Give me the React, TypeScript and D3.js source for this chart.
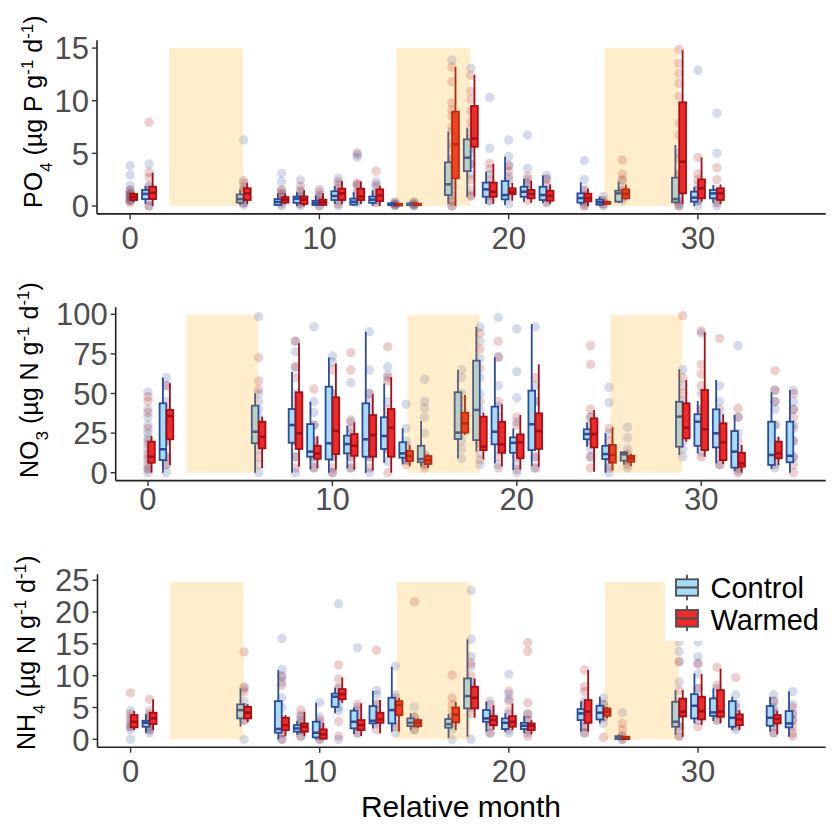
import React from "react";
import * as d3 from "d3";

type Box = number[] | null;

// ---------- shared ----------
const xTicks = [0, 10, 20, 30];
const xDomain = [-1.75, 36.75];
const shadeSpans = [[2.08, 5.97], [14.07, 17.97], [25.07, 28.97]];

// ---------- PO4 ----------
const po4Ticks = [0, 5, 10, 15];
const po4ShadeTop = 15;
const po4Months = [0, 1, 6, 8, 9, 10, 11, 12, 13, 14, 15, 17, 18, 19, 20, 21, 22, 24, 25, 26, 29, 30, 31];
const po4CtrlBox: Box[] = [
  null, [0.2, 0.66, 1.15, 1.52, 1.9], [0.1, 0.32, 0.66, 1.1, 1.5], [0, 0.1, 0.38, 0.66, 1.2],
  [0, 0.3, 0.7, 0.9, 1.3], [0, 0.1, 0.3, 0.5, 1.0], [0.2, 0.57, 0.95, 1.4, 1.9], [0, 0.13, 0.4, 0.7, 1.3],
  [0, 0.3, 0.6, 0.9, 1.5], [0, 0.08, 0.15, 0.25, 0.4], [0, 0.08, 0.15, 0.25, 0.4], [0.2, 1.04, 2.06, 4.15, 7.06],
  [0.88, 3.32, 4.59, 6.33, 7.38], [0.2, 0.88, 1.58, 2.22, 3.26], [0.1, 0.63, 1.04, 2.37, 4.68],
  [0.4, 0.88, 1.36, 1.83, 2.6], [0.3, 0.57, 1.04, 1.83, 2.9], [0.1, 0.32, 0.75, 1.2, 2.25],
  [0, 0.13, 0.35, 0.6, 0.9], [0.3, 0.41, 1.2, 1.45, 2.3], [0.2, 0.35, 0.66, 2.69, 5.79],
  [0, 0.41, 0.8, 1.36, 1.83], [0.3, 0.73, 1.2, 1.52, 2.0],
];
const po4WarmBox: Box[] = [
  [0.4, 0.57, 0.85, 1.14, 1.3], [0, 0.66, 1.25, 1.83, 3.17], [0.2, 0.57, 1.2, 1.68, 2.2], [0.2, 0.32, 0.6, 0.85, 1.2],
  [0, 0.2, 0.6, 0.9, 1.5], [0, 0.1, 0.35, 0.6, 1.2], [0.2, 0.57, 1.2, 1.65, 2.37], [0.2, 0.57, 0.9, 1.65, 2.34],
  [0, 0.47, 1.0, 1.58, 1.9], [0, 0.05, 0.12, 0.2, 0.3], [0, 0.08, 0.15, 0.22, 0.3], [0, 2.63, 5.86, 8.96, 13.2],
  [0.9, 5.63, 6.4, 9.5, 12.44], [0.2, 0.88, 1.36, 2.22, 3.99], [0.5, 1.14, 1.36, 1.68, 2.2],
  [0.3, 0.73, 1.14, 1.52, 2.4], [0.2, 0.5, 0.96, 1.45, 2.05], [0, 0.44, 0.75, 1.17, 1.65],
  [0.1, 0.2, 0.3, 0.4, 0.5], [0.6, 0.73, 1.14, 1.58, 2.05], [0.2, 1.2, 4.21, 9.85, 14.8],
  [0.4, 0.73, 1.68, 2.53, 4.62], [0.2, 0.57, 1.2, 1.68, 2.05],
];
const po4CtrlPts = [
  [3.83, 2.94, 1.93, 1.5, 1.2, 1.0, 0.8, 0.6, 0.5], [3.99, 1.9, 1.5, 1.0, 0.5, 0], [6.27, 2.2, 1.5, 0.3, 0.1],
  [3.1, 2.3, 1.5, 1.0, 0.5, 0], [2.47, 1.5, 1.0, 0.3, 0], [1.3, 0.8, 0.4, 0], [2.63, 2.0, 1.3, 0.5, 0],
  [4.87, 4.62, 2.0, 1.2, 0.3], [2.3, 1.8, 1.2, 0.4], [0.4, 0.2, 0.1, 0], [0.4, 0.2, 0.1, 0],
  [13.86, 7.1, 5.5, 4.5, 3.5, 2.5, 1.5, 1.0, 0.5, 0], [13.1, 7.4, 6.0, 5.0, 4.0, 3.0, 1.5, 0.9],
  [10.3, 5.48, 3.0, 2.0, 1.0, 0.5], [6.27, 4.7, 3.9, 2.8, 1.5, 0.2], [6.74, 3.58, 2.5, 2.0, 1.2],
  [2.9, 2.5, 1.5, 0.8, 0.3], [4.3, 2.5, 1.5, 0.5, 0], [0.9, 0.5, 0.2, 0], [2.4, 1.5, 0.5],
  [5.0, 3.0, 1.5, 0.8, 0.2, 0], [12.9, 2.0, 1.5, 0.5, 0], [8.8, 5.0, 1.5, 0.5, 0],
];
const po4WarmPts = [
  [1.5, 1.2, 0.9, 0.5, 0.3], [7.95, 3.2, 2.7, 1.8, 0], [2.4, 1.8, 1.5, 0.3], [1.5, 1.2, 0.8, 0.2],
  [1.9, 1.3, 0.8, 0.2], [1.58, 1.0, 0.5, 0], [2.3, 1.7, 1.0, 0.2], [5.06, 2.2, 2.0, 1.3, 0.5],
  [3.32, 2.0, 1.0, 0.3], [0.3, 0.1], [0.3, 0.1],
  [13.2, 11.8, 9.8, 9.1, 8.5, 7.5, 6.0, 4.5, 3.5, 2.0, 0.5, 0], [12.4, 10.9, 10.1, 9.0, 8.0, 6.5, 5.5, 4.0, 2.5, 1.0],
  [4.05, 3.5, 2.5, 1.5, 0.5], [3.8, 3.3, 2.5, 1.0], [2.8, 2.2, 1.5, 0.5], [2.6, 2.0, 1.2, 0.4],
  [1.5, 1.0, 0.3, 0], [0.5, 0.2], [4.37, 3.04, 2.5, 1.5, 0.8],
  [14.88, 13.55, 12.6, 11.65, 10.4, 7.85, 6.74, 4.5, 3.0, 1.5, 0.5, 0], [4.62, 3.04, 2.5, 1.5, 0.5], [3.64, 2.5, 1.0, 0.3],
];

// ---------- NO3 ----------
const no3Ticks = [0, 25, 50, 75, 100];
const no3ShadeTop = 99.5;
const no3Months = [0, 1, 6, 8, 9, 10, 11, 12, 13, 14, 15, 17, 18, 19, 20, 21, 24, 25, 26, 29, 30, 31, 32, 34, 35];
const no3CtrlBox: Box[] = [
  null, [0, 8.0, 14.8, 43.8, 60], [0, 18.6, 25.9, 42.3, 50.1], [0, 18.9, 30.1, 40.2, 63.8],
  [2.1, 10.1, 13.3, 30.7, 44.8], [0, 8.4, 18.6, 54.3, 72.8], [2.8, 12.2, 18.1, 23.4, 29.7],
  [0, 10.1, 21.1, 43.8, 89], [6.3, 15, 23.2, 35, 56.4], [5.3, 9.5, 12.2, 19.2, 28], [4, 6.6, 8.6, 17, 32.6],
  [9.1, 21.3, 25.3, 50.8, 64.8], [13.3, 20.6, 39.6, 70.7, 92], [5.9, 17.9, 25.9, 41.7, 72.8],
  [1.7, 12.6, 18.9, 22.3, 28], [4.2, 14.3, 30.6, 51.8, 93.9], [16.4, 21.1, 24.4, 27.4, 31.8],
  [0, 8.6, 11.8, 17, 24.9], [5.1, 7.6, 11.6, 12.9, 13.5], [11.2, 16.4, 35.4, 44.8, 65.3],
  [12.2, 17, 32.2, 36.9, 45.3], [5.9, 16, 24.9, 40, 58.5], [1, 3.2, 13.3, 26.3, 36.4],
  [2.3, 4.9, 11.2, 32.2, 50.8], [0, 6.6, 10.7, 32.2, 52.2],
];
const no3WarmBox: Box[] = [
  [0, 6.3, 10.1, 19.6, 23.2], [4.9, 21.1, 35.8, 39.6, 56.4], [2.8, 15.4, 22.7, 32.2, 35.4],
  [3.8, 15, 24.9, 50.8, 81.7], [2.8, 8.8, 12.2, 17, 23], [2, 11.8, 26.5, 47.6, 69], [2, 10.7, 17, 24.4, 31.8],
  [1.3, 10.1, 23.8, 36.4, 49.5], [0, 10.1, 28.4, 40.2, 60.2], [4.2, 7.4, 10.5, 13.7, 17.5], [3, 5.5, 8, 10.5, 11.6],
  [24, 25.3, 31.2, 37.9, 49], [8.4, 14.3, 16.4, 35.4, 37.9], [4, 12.6, 17.9, 32.2, 43.2],
  [2, 9.1, 19.2, 24.2, 36.4], [3.8, 15, 26.3, 37.5, 68.4], [0.6, 16, 24.4, 34.3, 39.6],
  [1.3, 6.3, 11.2, 17.5, 28.7], [4.2, 6.9, 9, 10.7, 12], [19.6, 21.7, 28.4, 43.8, 58.5],
  [10.1, 14.3, 27.4, 52.2, 88.6], [5.5, 8, 19.2, 31.2, 36.9], [0, 3.8, 5.9, 12.6, 17.5],
  [4.9, 9.1, 12.2, 19.6, 22.7], null,
];
const no3CtrlPts = [
  [51, 40, 35, 30, 25, 22, 18, 12, 8, 3, 0], [60, 55, 45, 30, 20, 10, 5, 0], [98.5, 50, 45, 40, 35, 25, 15, 5, 0],
  [83, 76.4, 66.5, 50, 40, 30, 20, 10, 0], [92.2, 44.8, 38, 30, 20, 15, 8, 3], [73.7, 70, 50, 35, 20, 10, 0],
  [56.8, 32, 25, 18, 10, 3], [89, 64.8, 50, 45, 30, 20, 10, 0], [66.9, 61.7, 45, 35, 25, 15, 7],
  [43.2, 28, 20, 12, 8], [59, 45, 40.9, 35, 25, 10, 5], [65, 60, 50, 40, 30, 20, 15, 9],
  [92, 83, 72, 60, 50, 40, 25, 12, 5], [98, 73, 55, 42, 30, 15, 5], [90.7, 63.8, 47.3, 32, 20, 5, 0],
  [92, 55, 45, 35, 25, 10, 3], [35, 30, 25, 20, 15, 10], [53.9, 44.2, 25, 15, 5, 0], [28.7, 22.1, 15, 8, 3],
  [65, 55, 45, 35, 25, 15, 10], [88, 50, 40, 30, 20, 13], [55, 45, 35, 25, 15, 5], [80.2, 35, 25, 15, 5, 1],
  [52, 45, 40, 30, 20, 10, 3], [52, 45, 40, 30, 20, 10],
];
const no3WarmPts = [
  [48, 45, 38, 28, 20, 15, 10, 5, 2], [55, 40, 35, 28, 20, 10, 5], [72.6, 58, 52.6, 30, 20, 10],
  [83, 67, 60, 45, 30, 20, 10, 3], [52.8, 30, 20, 10, 3], [65, 50, 35, 20, 10, 3, 0],
  [75.8, 64.8, 33.3, 28, 20, 10, 3], [50, 40, 30, 20, 10, 3], [79.5, 60, 58, 40, 30, 15, 0],
  [17, 12, 8, 5], [12, 9, 6, 3], [45, 35, 30, 25], [88, 78, 66, 45, 30, 18, 8], [83, 73, 45, 36, 25, 10, 3],
  [35, 30, 20, 10, 2], [60, 45, 30, 20, 10, 3], [80.2, 68.4, 40, 35, 20, 10, 3], [28, 20, 10, 3], [12, 8, 5],
  [99.1, 60, 50, 40, 30, 25, 20], [89.5, 68.4, 62.3, 55, 40, 30, 20, 10], [84.8, 40, 30, 20, 10, 5],
  [40.7, 35, 20, 10, 3, 0], [64.4, 52.2, 45, 30, 15, 5], [50, 40, 35, 28, 20, 10, 5, 0],
];

// ---------- NH4 ----------
const nh4Ticks = [0, 5, 10, 15, 20, 25];
const nh4ShadeTop = 24.7;
const nh4Months = [0, 1, 6, 8, 9, 10, 11, 12, 13, 14, 15, 17, 18, 19, 20, 21, 24, 25, 26, 29, 30, 31, 32, 34, 35];
const nh4CtrlBox: Box[] = [
  null, [1.04, 1.98, 2.6, 2.92, 4.0], [2.0, 3.29, 4.6, 5.49, 8.0], [0, 1.04, 1.62, 6.0, 10.9],
  [0.7, 1.2, 1.72, 2.24, 2.9], [0, 0.3, 1.04, 2.76, 5.75], [4.1, 5.1, 6.7, 7.2, 8.1], [0.83, 1.73, 2.76, 4.5, 5.0],
  [1.7, 2.5, 2.92, 5.22, 7.6], [1.2, 2.5, 4.6, 6.53, 11.4], [1.5, 2.09, 2.6, 3.29, 4.1], [0.26, 1.83, 2.4, 3.19, 4.0],
  [0.4, 4.86, 6.8, 9.57, 15.7], [1.2, 2.76, 3.29, 4.6, 5.9], [1.2, 1.62, 2.6, 3.29, 4.1], [1.0, 1.62, 2.14, 2.6, 3.7],
  [1.2, 3.03, 4.07, 4.75, 6.0], [2.5, 3.13, 4.18, 5.28, 6.7], [0, 0.05, 0.26, 0.5, 0.8], [0.7, 1.98, 2.76, 5.9, 7.7],
  [2.5, 3.29, 5.28, 7.1, 10.35], [2.9, 3.7, 4.23, 6.43, 8.0], [1.46, 1.98, 3.39, 6.0, 6.7],
  [1.2, 2.14, 3.39, 5.22, 6.7], [0.4, 1.88, 2.5, 4.44, 7.5],
];
const nh4WarmBox: Box[] = [
  [1.46, 1.88, 2.76, 3.81, 4.44], [1.46, 2.4, 3.29, 4.18, 6.28], [2.7, 3.29, 4.18, 5.1, 5.5],
  [0.5, 1.46, 2.24, 3.39, 3.81], [0.5, 1.2, 2.0, 2.5, 4.34], [0, 0.1, 0.78, 1.57, 2.6], [5.75, 6.3, 7.1, 7.9, 9.7],
  [0.52, 1.46, 2.24, 3.03, 5.65], [0.94, 2.6, 3.13, 4.18, 6.17], [1.2, 3.81, 5.38, 6.0, 6.5],
  [1.8, 2.09, 2.6, 3.03, 3.3], [1.46, 2.67, 3.92, 5.0, 5.9], [3.39, 4.86, 6.53, 8.26, 9.57],
  [1.5, 2.24, 3.03, 3.65, 5.38], [1.46, 1.98, 2.76, 3.65, 5.65], [0.8, 1.46, 2.14, 2.5, 3.0],
  [1.2, 2.6, 4.34, 6.17, 10.9], [3.3, 3.7, 4.34, 4.86, 5.1], [0, 0.05, 0.2, 0.4, 0.5], [0.4, 3.6, 4.34, 6.4, 7.74],
  [2.24, 3.13, 4.44, 6.7, 10.25], [2.5, 3.55, 4.34, 7.74, 11.1], [1.46, 2.24, 3.13, 3.92, 4.6],
  [0.8, 2.5, 3.2, 3.81, 4.5], null,
];
const nh4CtrlPts = [
  [4.5, 3.5, 2.5, 2.0, 1.5, 0], [4.0, 3.0, 2.0, 1.5, 1.0], [8.0, 6, 5, 4, 3, 0], [15.85, 11.0, 10, 9, 6.5, 5, 3, 1, 0],
  [3.8, 3.0, 2.0, 1.5, 0.5], [5.8, 3.5, 2.5, 1.5, 0.5, 0], [21.3, 8.1, 6, 5, 4.5, 0], [14.4, 5, 3, 2, 1],
  [7.7, 7.0, 5.5, 4, 2.5], [11.5, 7.0, 5.5, 4, 2.5, 1.0], [5.1, 3.5, 2.5, 1.5], [3.5, 2.5, 1.5, 0],
  [23.4, 15.7, 13, 11.5, 9, 7, 5, 0], [6.0, 4.5, 3.5, 2.5, 1.0], [10.25, 7.1, 6.3, 4, 2.5, 1], [4.0, 3.0, 2.0, 1.0],
  [6, 5, 4, 3, 2, 1], [6.5, 5.5, 4.5, 3.5, 2.5], [4.18, 0.5, 0], [15.3, 13.8, 12.2, 9, 6, 4, 2, 0.5],
  [15.3, 13.0, 12.0, 10.3, 8, 5, 3], [8, 6.5, 5, 4, 3], [7, 5.5, 4, 3, 1.5], [7, 6, 5, 4, 3, 2, 1], [7.5, 5.5, 4, 3],
];
const nh4WarmPts = [
  [7.3, 4, 3, 2], [6.3, 4.5, 3.5, 2.5, 1.5], [13.75, 8.26, 7.5, 5, 4, 3], [9.8, 8.5, 3, 2, 1, 0],
  [4.6, 3.5, 2.5, 1.5, 0.5], [3, 2, 1, 0], [11.7, 9.5, 8.0, 6.5, 2.8, 0.5], [5.5, 4.5, 3.5, 2.0, 1.0],
  [14.0, 5.5, 4.5, 3.0, 1.5], [6.5, 5.5, 4.5, 2.0], [21.6, 3.5, 2.5, 1.5], [10.1, 6.5, 5.5, 4.5, 3.0],
  [12, 10, 8.5, 6, 4], [5.5, 4, 3, 2, 1], [7.6, 6, 4.5, 3, 1.5], [15.2, 13.85, 5.75, 4, 3, 1.5, 0.5],
  [10.9, 8.26, 7.5, 5.5, 4, 2, 1], [5.5, 4.5, 3.5, 0.3], [2.5, 1.5, 0.5, 0], [12.2, 7.7, 5, 4, 2, 0.5],
  [11.8, 8, 6, 4, 2], [11.3, 8.5, 6, 4.5, 3], [9.7, 5, 4, 3, 2], [6.0, 4.5, 3.5, 2.5, 1], [5, 4, 3, 2, 1, 0.5],
];

const legendLabels = ["Control", "Warmed"];

// ---------- styling ----------
const FONT = "'Liberation Sans', Arial, Helvetica, sans-serif";
const CTRL_FILL = "#a6dcf9";
const CTRL_LINE = "#2b4c9b";
const WARM_FILL = "#ee2a2a";
const WARM_LINE = "#a50f15";
const SHADE = "rgba(255,165,0,0.2)";
const TICK_COL = "#4d4d4d";
const TICK_FS = 31;

interface PanelCfg {
  months: number[];
  ctrlBox: Box[];
  warmBox: Box[];
  ctrlPts: number[][];
  warmPts: number[][];
  ticks: number[];
  shadeTop: number;
  x0: number;
  x1: number;
  yTop: number;
  yBottom: number;
  yDomain: [number, number];
  titleMain: string;
  titleSub: string;
  titleMid: string;
  titleX: number;
  titleY: number;
  xLabelDy: number;
}

const panels: PanelCfg[] = [
  {
    months: po4Months, ctrlBox: po4CtrlBox, warmBox: po4WarmBox, ctrlPts: po4CtrlPts, warmPts: po4WarmPts,
    ticks: po4Ticks, shadeTop: po4ShadeTop, x0: 97, x1: 825.7, yTop: 40.2, yBottom: 213.9,
    yDomain: [-0.75, 15.75], titleMain: "PO", titleSub: "4", titleMid: "P", titleX: 42, titleY: 208, xLabelDy: 35,
  },
  {
    months: no3Months, ctrlBox: no3CtrlBox, warmBox: no3WarmBox, ctrlPts: no3CtrlPts, warmPts: no3WarmPts,
    ticks: no3Ticks, shadeTop: no3ShadeTop, x0: 115.7, x1: 825.7, yTop: 307.2, yBottom: 480.6,
    yDomain: [-4.975, 104.475], titleMain: "NO", titleSub: "3", titleMid: "N", titleX: 38, titleY: 478, xLabelDy: 29,
  },
  {
    months: nh4Months, ctrlBox: nh4CtrlBox, warmBox: nh4WarmBox, ctrlPts: nh4CtrlPts, warmPts: nh4WarmPts,
    ticks: nh4Ticks, shadeTop: nh4ShadeTop, x0: 97.5, x1: 825.7, yTop: 574.3, yBottom: 747.2,
    yDomain: [-1.235, 25.935], titleMain: "NH", titleSub: "4", titleMid: "N", titleX: 35, titleY: 750, xLabelDy: 34.5,
  },
];

const BOX_W = 0.36;
const DODGE = 0.19;

function BoxMark({ b, cx, w, y, fill, line }: { b: number[]; cx: number; w: number; y: d3.ScaleLinear<number, number>; fill: string; line: string }) {
  const [lo, q1, med, q3, hi] = b;
  const top = y(q3);
  const bot = y(q1);
  return (
    <g>
      <line x1={cx} x2={cx} y1={y(hi)} y2={top} stroke={line} strokeWidth={1.8} />
      <line x1={cx} x2={cx} y1={bot} y2={y(lo)} stroke={line} strokeWidth={1.8} />
      <rect x={cx - w / 2} y={top} width={w} height={Math.max(bot - top, 0.5)} fill={fill} stroke={line} strokeWidth={1.8} />
      <line x1={cx - w / 2} x2={cx + w / 2} y1={y(med)} y2={y(med)} stroke={line} strokeWidth={2.6} />
    </g>
  );
}

function Panel({ cfg }: { cfg: PanelCfg }) {
  const x = d3.scaleLinear().domain(xDomain).range([cfg.x0, cfg.x1]);
  const y = d3.scaleLinear().domain(cfg.yDomain).range([cfg.yBottom, cfg.yTop]);
  const bw = x(BOX_W) - x(0);
  const dx = x(DODGE) - x(0);
  return (
    <g>
      {/* points */}
      {cfg.months.map((m, i) => (
        <g key={"p" + i}>
          {cfg.ctrlPts[i].map((v, j) => (
            <circle key={"c" + j} cx={x(m)} cy={y(v)} r={4.7} fill={CTRL_LINE} fillOpacity={0.2} />
          ))}
          {cfg.warmPts[i].map((v, j) => (
            <circle key={"w" + j} cx={x(m)} cy={y(v)} r={4.7} fill={WARM_LINE} fillOpacity={0.2} />
          ))}
        </g>
      ))}
      {/* boxes */}
      {cfg.months.map((m, i) => (
        <g key={"b" + i}>
          {cfg.ctrlBox[i] && <BoxMark b={cfg.ctrlBox[i] as number[]} cx={x(m) - dx} w={bw} y={y} fill={CTRL_FILL} line={CTRL_LINE} />}
          {cfg.warmBox[i] && <BoxMark b={cfg.warmBox[i] as number[]} cx={x(m) + dx} w={bw} y={y} fill={WARM_FILL} line={WARM_LINE} />}
        </g>
      ))}
      {/* shaded periods */}
      {shadeSpans.map((s, i) => (
        <rect key={"s" + i} x={x(s[0])} y={y(cfg.shadeTop)} width={x(s[1]) - x(s[0])} height={y(0) - y(cfg.shadeTop)} fill={SHADE} />
      ))}
      {/* axes */}
      <line x1={cfg.x0} x2={cfg.x0} y1={cfg.yTop} y2={cfg.yBottom} stroke="#222" strokeWidth={1.6} />
      <line x1={cfg.x0} x2={cfg.x1} y1={cfg.yBottom} y2={cfg.yBottom} stroke="#222" strokeWidth={1.6} />
      {cfg.ticks.map((t) => (
        <g key={"yt" + t}>
          <line x1={cfg.x0 - 5} x2={cfg.x0} y1={y(t)} y2={y(t)} stroke="#333" strokeWidth={1.4} />
          <text x={cfg.x0 - 8} y={y(t)} dy="0.36em" textAnchor="end" fontSize={TICK_FS} fill={TICK_COL} fontFamily={FONT}>{t}</text>
        </g>
      ))}
      {xTicks.map((t) => (
        <g key={"xt" + t}>
          <line x1={x(t)} x2={x(t)} y1={cfg.yBottom} y2={cfg.yBottom + 5.5} stroke="#333" strokeWidth={1.4} />
          <text x={x(t)} y={cfg.yBottom + cfg.xLabelDy} textAnchor="middle" fontSize={TICK_FS} fill={TICK_COL} fontFamily={FONT}>{t}</text>
        </g>
      ))}
      <text transform={`translate(${cfg.titleX},${cfg.titleY}) rotate(-90)`} fontSize={25} fill="#000" fontFamily={FONT}>
        {cfg.titleMain}
        <tspan baselineShift="sub" fontSize={17}>{cfg.titleSub}</tspan>
        <tspan> (µg {cfg.titleMid} g</tspan>
        <tspan baselineShift="super" fontSize={17}>-1</tspan>
        <tspan> d</tspan>
        <tspan baselineShift="super" fontSize={17}>-1</tspan>
        <tspan>)</tspan>
      </text>
    </g>
  );
}

function Legend() {
  const keys = [
    { label: legendLabels[0], fill: CTRL_FILL, top: 579.3, h: 16.4, base: 597.5 },
    { label: legendLabels[1], fill: WARM_FILL, top: 610, h: 16.7, base: 630 },
  ];
  return (
    <g>
      <rect x={665} y={566} width={169} height={75} fill="#fff" />
      {keys.map((k, i) => (
        <g key={i}>
          <line x1={687} x2={687} y1={k.top - 4.5} y2={k.top + k.h + 4.5} stroke="#4d4d4d" strokeWidth={1.8} />
          <rect x={676} y={k.top} width={22} height={k.h} fill={k.fill} stroke="#4d4d4d" strokeWidth={1.8} />
          <line x1={676} x2={698} y1={k.top + k.h / 2} y2={k.top + k.h / 2} stroke="#4d4d4d" strokeWidth={2.2} />
          <text x={710.5} y={k.base} fontSize={29} fill="#000" fontFamily={FONT}>{k.label}</text>
        </g>
      ))}
    </g>
  );
}

export default function App() {
  return (
    <svg width={834} height={826} style={{ position: "absolute", left: 0, top: 0, background: "#fff" }}>
      <rect x={0} y={0} width={834} height={826} fill="#fff" />
      {panels.map((p, i) => (
        <Panel key={i} cfg={p} />
      ))}
      <Legend />
      <text x={461} y={817} textAnchor="middle" fontSize={30} fill="#000" fontFamily={FONT}>Relative month</text>
    </svg>
  );
}
